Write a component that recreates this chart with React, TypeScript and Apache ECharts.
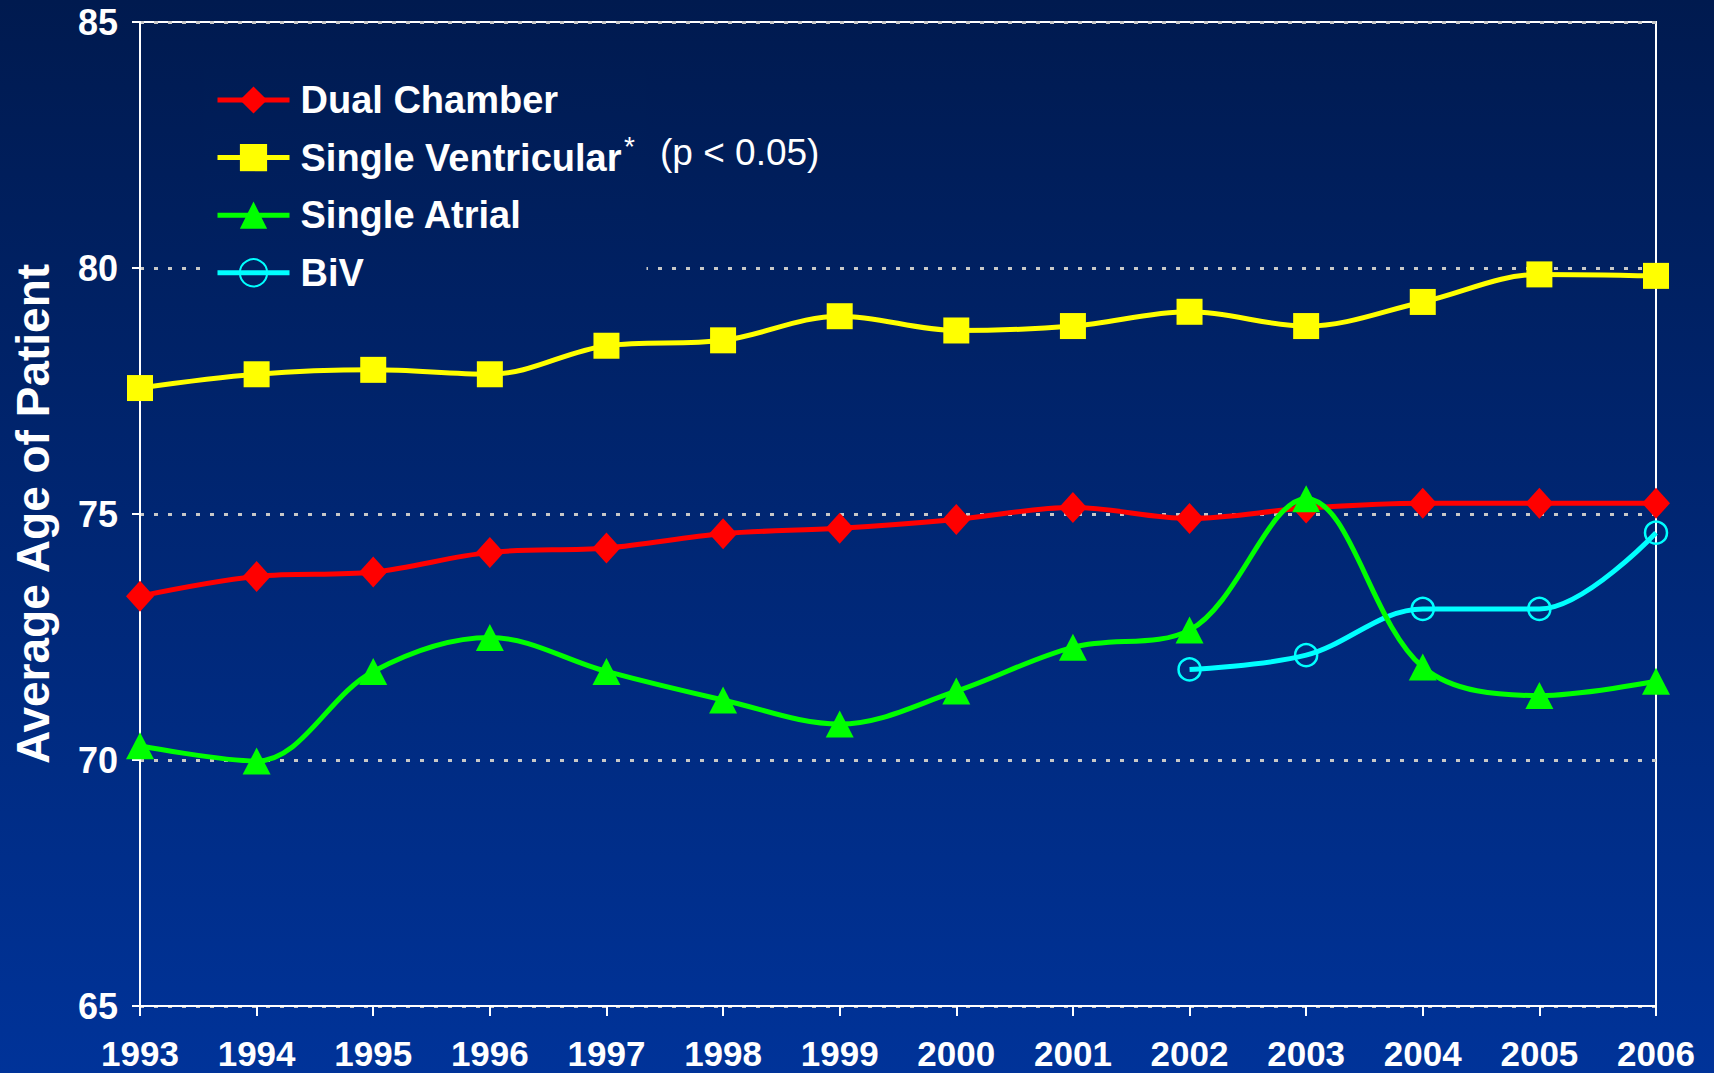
import React, { useEffect, useRef } from "react";
import * as echarts from "echarts";

const years = ["1993", "1994", "1995", "1996", "1997", "1998", "1999", "2000", "2001", "2002", "2003", "2004", "2005", "2006"];
const dualChamber = [73.33, 73.73, 73.82, 74.22, 74.31, 74.6, 74.71, 74.89, 75.13, 74.91, 75.12, 75.22, 75.22, 75.22];
const singleVentricular = [77.56, 77.84, 77.93, 77.84, 78.42, 78.53, 79.02, 78.73, 78.82, 79.11, 78.82, 79.31, 79.87, 79.84];
const singleAtrial = [70.29, 69.98, 71.8, 72.49, 71.8, 71.22, 70.73, 71.4, 72.29, 72.64, 75.31, 71.89, 71.31, 71.6];
const biv = [null, null, null, null, null, null, null, null, null, 71.84, 72.13, 73.07, 73.07, 74.62];
const seriesNames = ["Dual Chamber", "Single Ventricular", "Single Atrial", "BiV"];
const yMin = 65;
const yMax = 85;
const yStep = 5;

const mainFont = "'Liberation Sans', Arial, sans-serif";

export default function App() {
  const ref = useRef<HTMLDivElement>(null);
  useEffect(() => {
    document.body.style.margin = "0";
    const chart = echarts.init(ref.current!, null, { renderer: "svg" });
    const lineW = 5;
    chart.setOption({
      animation: false,
      backgroundColor: new echarts.graphic.LinearGradient(0, 0, 0, 1, [
        { offset: 0, color: "#001a4f" },
        { offset: 1, color: "#003399" },
      ]),
      grid: {
        left: 140,
        right: 58,
        top: 22,
        bottom: 67,
        show: true,
        borderColor: "#ffffff",
        borderWidth: 2,
        backgroundColor: "transparent",
      },
      legend: {
        data: seriesNames,
        orient: "vertical",
        left: 204,
        top: 70,
        padding: [10, 25, 10, 11],
        itemWidth: 72,
        itemHeight: 34,
        itemGap: 17.6,
        backgroundColor: new echarts.graphic.LinearGradient(0, 0, 0, 1, [
          { offset: 0, color: "rgb(0,28,84)" },
          { offset: 1, color: "rgb(0,33,100)" },
        ]),
        lineStyle: { width: 5 },
        textStyle: {
          color: "#ffffff",
          fontFamily: mainFont,
          fontWeight: "bold",
          fontSize: 38,
          lineHeight: 40,
          padding: [0, 0, 0, 6],
        },
        z: 1,
      },
      xAxis: {
        type: "category",
        data: years,
        boundaryGap: false,
        axisLine: { lineStyle: { color: "#ffffff", width: 2 } },
        axisTick: { show: true, alignWithLabel: true, length: 10, lineStyle: { color: "#ffffff", width: 2 } },
        axisLabel: {
          interval: 0,
          margin: 30,
          color: "#ffffff",
          fontFamily: mainFont,
          fontWeight: "bold",
          fontSize: 35,
        },
        splitLine: { show: false },
      },
      yAxis: {
        type: "value",
        min: yMin,
        max: yMax,
        interval: yStep,
        name: "Average Age of Patient",
        nameLocation: "middle",
        nameGap: 84,
        nameTextStyle: {
          color: "#ffffff",
          fontFamily: mainFont,
          fontWeight: "bold",
          fontSize: 46,
        },
        axisLine: { show: true, lineStyle: { color: "#ffffff", width: 2 } },
        axisTick: { show: true, length: 8, lineStyle: { color: "#ffffff", width: 2 } },
        axisLabel: {
          margin: 22,
          color: "#ffffff",
          fontFamily: mainFont,
          fontWeight: "bold",
          fontSize: 36,
        },
        splitLine: { show: true, lineStyle: { color: "#c8c8c8", width: 3, type: [4, 10] } },
      },
      graphic: [
        {
          type: "text",
          left: 624,
          top: 132,
          style: { text: "*", fill: "#ffffff", font: "28px " + mainFont },
          z: 10,
        },
        {
          type: "text",
          left: 660,
          top: 134,
          style: { text: "(p < 0.05)", fill: "#ffffff", font: "37px " + mainFont },
          z: 10,
        },
      ],
      series: [
        {
          name: "Dual Chamber",
          type: "line",
          data: dualChamber,
          smooth: 0.35,
          symbol: "diamond",
          symbolSize: [28, 31],
          lineStyle: { color: "#ff0000", width: lineW },
          itemStyle: { color: "#ff0000" },
          z: 2,
        },
        {
          name: "Single Ventricular",
          type: "line",
          data: singleVentricular,
          smooth: 0.35,
          symbol: "rect",
          symbolSize: 26,
          lineStyle: { color: "#ffff00", width: lineW },
          itemStyle: { color: "#ffff00" },
          z: 2,
        },
        {
          name: "Single Atrial",
          type: "line",
          data: singleAtrial,
          smooth: 0.35,
          symbol: "triangle",
          symbolSize: [28, 27],
          lineStyle: { color: "#00ff00", width: lineW },
          itemStyle: { color: "#00ff00" },
          z: 4,
        },
        {
          name: "BiV",
          type: "line",
          data: biv,
          smooth: 0.35,
          connectNulls: false,
          symbol: "circle",
          symbolSize: 22,
          lineStyle: { color: "#00ffff", width: lineW },
          itemStyle: { color: "transparent", borderColor: "#00ffff", borderWidth: 2.5 },
          z: 3,
        },
      ],
    });
    return () => chart.dispose();
  }, []);
  return <div ref={ref} style={{ width: 1714, height: 1073 }} />;
}
